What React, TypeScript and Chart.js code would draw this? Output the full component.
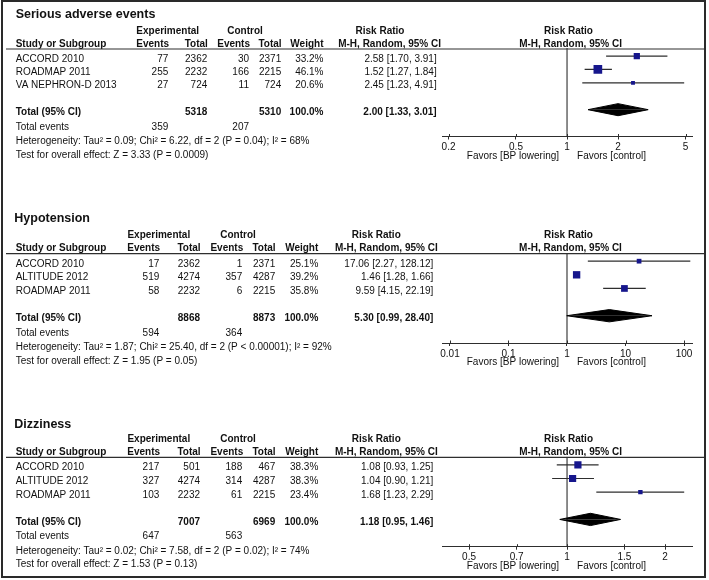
import React, { useEffect, useRef } from 'react';
import { Chart, registerables } from 'chart.js';

Chart.register(...registerables);

const FONT = "'Liberation Sans', Arial, Helvetica, sans-serif";
const INK = '#111111';
const LINE = '#2e2e2e';
const SQUARE = '#16168c';

// ---------- Serious adverse events ----------
const saeTitle = 'Serious adverse events';
const saeStudies = ['ACCORD 2010', 'ROADMAP 2011', 'VA NEPHRON-D 2013'];
const saeExpEvents = [77, 255, 27];
const saeExpTotal = [2362, 2232, 724];
const saeCtlEvents = [30, 166, 11];
const saeCtlTotal = [2371, 2215, 724];
const saeWeight = [33.2, 46.1, 20.6];
const saeRR = [2.58, 1.52, 2.45];
const saeLow = [1.7, 1.27, 1.23];
const saeHigh = [3.91, 1.84, 4.91];
const saeTotals = [5318, 5310];
const saeTotalEvents = [359, 207];
const saePooled = [2.0, 1.33, 3.01];
const saeHet = 'Heterogeneity: Tau² = 0.09; Chi² = 6.22, df = 2 (P = 0.04); I² = 68%';
const saeTest = 'Test for overall effect: Z = 3.33 (P = 0.0009)';
const saeTicks = [0.2, 0.5, 1, 2, 5];

// ---------- Hypotension ----------
const hypoTitle = 'Hypotension';
const hypoStudies = ['ACCORD 2010', 'ALTITUDE 2012', 'ROADMAP 2011'];
const hypoExpEvents = [17, 519, 58];
const hypoExpTotal = [2362, 4274, 2232];
const hypoCtlEvents = [1, 357, 6];
const hypoCtlTotal = [2371, 4287, 2215];
const hypoWeight = [25.1, 39.2, 35.8];
const hypoRR = [17.06, 1.46, 9.59];
const hypoLow = [2.27, 1.28, 4.15];
const hypoHigh = [128.12, 1.66, 22.19];
const hypoTotals = [8868, 8873];
const hypoTotalEvents = [594, 364];
const hypoPooled = [5.3, 0.99, 28.4];
const hypoHet = 'Heterogeneity: Tau² = 1.87; Chi² = 25.40, df = 2 (P < 0.00001); I² = 92%';
const hypoTest = 'Test for overall effect: Z = 1.95 (P = 0.05)';
const hypoTicks = [0.01, 0.1, 1, 10, 100];

// ---------- Dizziness ----------
const dizTitle = 'Dizziness';
const dizStudies = ['ACCORD 2010', 'ALTITUDE 2012', 'ROADMAP 2011'];
const dizExpEvents = [217, 327, 103];
const dizExpTotal = [501, 4274, 2232];
const dizCtlEvents = [188, 314, 61];
const dizCtlTotal = [467, 4287, 2215];
const dizWeight = [38.3, 38.3, 23.4];
const dizRR = [1.08, 1.04, 1.68];
const dizLow = [0.93, 0.9, 1.23];
const dizHigh = [1.25, 1.21, 2.29];
const dizTotals = [7007, 6969];
const dizTotalEvents = [647, 563];
const dizPooled = [1.18, 0.95, 1.46];
const dizHet = 'Heterogeneity: Tau² = 0.02; Chi² = 7.58, df = 2 (P = 0.02); I² = 74%';
const dizTest = 'Test for overall effect: Z = 1.53 (P = 0.13)';
const dizTicks = [0.5, 0.7, 1, 1.5, 2];

const panels = [
  { title: saeTitle, studies: saeStudies, expEvents: saeExpEvents, expTotal: saeExpTotal, ctlEvents: saeCtlEvents, ctlTotal: saeCtlTotal, weight: saeWeight, rr: saeRR, low: saeLow, high: saeHigh, totals: saeTotals, totalEvents: saeTotalEvents, pooled: saePooled, het: saeHet, test: saeTest, ticks: saeTicks },
  { title: hypoTitle, studies: hypoStudies, expEvents: hypoExpEvents, expTotal: hypoExpTotal, ctlEvents: hypoCtlEvents, ctlTotal: hypoCtlTotal, weight: hypoWeight, rr: hypoRR, low: hypoLow, high: hypoHigh, totals: hypoTotals, totalEvents: hypoTotalEvents, pooled: hypoPooled, het: hypoHet, test: hypoTest, ticks: hypoTicks },
  { title: dizTitle, studies: dizStudies, expEvents: dizExpEvents, expTotal: dizExpTotal, ctlEvents: dizCtlEvents, ctlTotal: dizCtlTotal, weight: dizWeight, rr: dizRR, low: dizLow, high: dizHigh, totals: dizTotals, totalEvents: dizTotalEvents, pooled: dizPooled, het: dizHet, test: dizTest, ticks: dizTicks },
];

// ---------- layout (pixel positions, local to each panel canvas) ----------
const colsA = { expEv: 168.3, expTot: 207.3, ctlEv: 249, ctlTot: 281.2, weight: 323.5, rr: 436.7, expCenter: 167.7, ctlCenter: 245, rrHead: 380, mhRight: 441 };
const colsB = { expEv: 159.3, expTot: 200, ctlEv: 242.2, ctlTot: 275.2, weight: 318.3, rr: 433.3, expCenter: 158.8, ctlCenter: 238, rrHead: 376.3, mhRight: 437.7 };
const layouts = [
  { top: 0, height: 195, chartTop: 48, axisY: 136.5, underlineY: 49, titleX: 15.7, titleY: 14.7, h1Y: 31, h2Y: 44.3, xMin: 0.183, xMax: 5.46, cols: colsA },
  { top: 195, height: 195, chartTop: 58, axisY: 148, underlineY: 58.6, titleX: 14.3, titleY: 23.3, h1Y: 40.3, h2Y: 53.7, xMin: 0.0073, xMax: 137, cols: colsB },
  { top: 390, height: 190, chartTop: 66.7, axisY: 156.7, underlineY: 67.3, titleX: 14.3, titleY: 35, h1Y: 49, h2Y: 62.7, xMin: 0.413, xMax: 2.42, cols: colsB },
];

const fmtRR = (r: number, lo: number, hi: number) => `${r.toFixed(2)} [${lo.toFixed(2)}, ${hi.toFixed(2)}]`;

function ForestPanel({ panel, lay }: { panel: any; lay: any }) {
  const ref = useRef<HTMLCanvasElement>(null);

  useEffect(() => {
    const canvas = ref.current;
    if (!canvas) return;
    const n = panel.studies.length;
    const totalRow = n + 2;
    const [pe, plo, phi] = panel.pooled;

    const ciSets = panel.studies.map((_: string, i: number) => ({
      data: [{ x: panel.low[i], y: i + 1 }, { x: panel.high[i], y: i + 1 }],
      showLine: true, borderColor: LINE, borderWidth: 1.2, pointRadius: 0, order: 2,
    }));
    const squares = {
      data: panel.rr.map((r: number, i: number) => ({ x: r, y: i + 1 })),
      pointStyle: 'rect',
      pointRadius: panel.weight.map((w: number) => w * 0.133),
      backgroundColor: SQUARE, borderColor: SQUARE, borderWidth: 0, order: 0,
    };
    const upper = {
      data: [{ x: plo, y: totalRow }, { x: pe, y: totalRow - 0.45 }, { x: phi, y: totalRow }],
      showLine: true, fill: { value: totalRow }, backgroundColor: '#000', borderColor: '#000', borderWidth: 1, pointRadius: 0, tension: 0, order: 1,
    };
    const lower = {
      data: [{ x: plo, y: totalRow }, { x: pe, y: totalRow + 0.45 }, { x: phi, y: totalRow }],
      showLine: true, fill: { value: totalRow }, backgroundColor: '#000', borderColor: '#000', borderWidth: 1, pointRadius: 0, tension: 0, order: 1,
    };
    const nullLine = {
      data: [{ x: 1, y: 0.4 }, { x: 1, y: 7 }],
      showLine: true, borderColor: LINE, borderWidth: 1.1, pointRadius: 0, order: 3,
    };

    const textPlugin = {
      id: 'forestText',
      afterDraw(chart: any) {
        const ctx = chart.ctx;
        const ys = chart.scales.y;
        const xs = chart.scales.x;
        const c = lay.cols;
        ctx.save();
        const t = (s: string, x: number, y: number, align: string = 'left', bold = false, size = 10) => {
          ctx.font = `${bold ? 'bold ' : ''}${size}px ${FONT}`;
          ctx.textAlign = align;
          ctx.textBaseline = 'middle';
          ctx.fillStyle = INK;
          ctx.fillText(s, x, y);
        };
        const xc = xs.getPixelForValue(1);
        // title
        t(panel.title, lay.titleX, lay.titleY, 'left', true, 12.5);
        // header row 1
        t('Experimental', c.expCenter, lay.h1Y, 'center', true);
        t('Control', c.ctlCenter, lay.h1Y, 'center', true);
        t('Risk Ratio', c.rrHead, lay.h1Y, 'center', true);
        t('Risk Ratio', xc + 1.5, lay.h1Y, 'center', true);
        // header row 2
        t('Study or Subgroup', 15.7, lay.h2Y, 'left', true);
        t('Events', c.expEv + 0.8, lay.h2Y, 'right', true);
        t('Total', c.expTot + 0.6, lay.h2Y, 'right', true);
        t('Events', c.ctlEv + 1, lay.h2Y, 'right', true);
        t('Total', c.ctlTot + 0.4, lay.h2Y, 'right', true);
        t('Weight', c.weight, lay.h2Y, 'right', true);
        t('M-H, Random, 95% CI', c.mhRight, lay.h2Y, 'right', true);
        t('M-H, Random, 95% CI', xc + 3.5, lay.h2Y, 'center', true);
        // underline
        ctx.strokeStyle = LINE;
        ctx.lineWidth = 1.2;
        ctx.beginPath();
        ctx.moveTo(6, lay.underlineY);
        ctx.lineTo(706, lay.underlineY);
        ctx.stroke();
        // study rows
        panel.studies.forEach((s: string, i: number) => {
          const y = ys.getPixelForValue(i + 1) + 2.8;
          t(s, 15.7, y);
          t(String(panel.expEvents[i]), c.expEv, y, 'right');
          t(String(panel.expTotal[i]), c.expTot, y, 'right');
          t(String(panel.ctlEvents[i]), c.ctlEv, y, 'right');
          t(String(panel.ctlTotal[i]), c.ctlTot, y, 'right');
          t(`${panel.weight[i].toFixed(1)}%`, c.weight, y, 'right');
          t(fmtRR(panel.rr[i], panel.low[i], panel.high[i]), c.rr, y, 'right');
        });
        // totals
        const ty = ys.getPixelForValue(totalRow) + 2.6;
        t('Total (95% CI)', 15.7, ty, 'left', true);
        t(String(panel.totals[0]), c.expTot, ty, 'right', true);
        t(String(panel.totals[1]), c.ctlTot, ty, 'right', true);
        t('100.0%', c.weight, ty, 'right', true);
        t(fmtRR(pe, plo, phi), c.rr, ty, 'right', true);
        t('Total events', 15.7, ty + 14.6);
        t(String(panel.totalEvents[0]), c.expEv, ty + 14.6, 'right');
        t(String(panel.totalEvents[1]), c.ctlEv, ty + 14.6, 'right');
        t(panel.het, 15.7, ty + 28.8);
        t(panel.test, 15.7, ty + 42.7);
        // favors labels
        const ay = xs.top;
        t('Favors [BP lowering]', xc - 8, ay + 19.5, 'right');
        t('Favors [control]', xc + 10, ay + 19.5, 'left');
        // upward half of tick crosses
        ctx.strokeStyle = LINE;
        ctx.lineWidth = 1;
        xs.ticks.forEach((tk: any) => {
          const px = Math.round(xs.getPixelForValue(tk.value)) + 0.5;
          ctx.beginPath();
          ctx.moveTo(px, ay - 2.5);
          ctx.lineTo(px, ay);
          ctx.stroke();
        });
        ctx.restore();
      },
    };

    const chart = new Chart(canvas, {
      type: 'scatter',
      data: { datasets: [squares, upper, lower, ...ciSets, nullLine] as any },
      options: {
        animation: false,
        responsive: false,
        devicePixelRatio: 1,
        events: [],
        layout: { padding: { left: 442, right: 17, top: lay.chartTop, bottom: 0 } },
        plugins: { legend: { display: false }, tooltip: { enabled: false } },
        scales: {
          x: {
            type: 'logarithmic',
            min: lay.xMin,
            max: lay.xMax,
            bounds: 'data',
            position: 'bottom',
            grid: { drawOnChartArea: false, drawTicks: true, tickLength: 3, color: LINE, lineWidth: 1 },
            border: { display: true, color: LINE, width: 1 },
            ticks: {
              autoSkip: false, maxRotation: 0, minRotation: 0, padding: 2,
              color: INK, font: { family: FONT, size: 10 },
              callback: (v: any) => String(v),
            },
            afterBuildTicks: (scale: any) => { scale.ticks = panel.ticks.map((v: number) => ({ value: v })); },
            afterFit: (scale: any) => { scale.height = lay.height - lay.axisY; },
          } as any,
          y: { type: 'linear', min: 0.4, max: 7, reverse: true, display: false },
        },
      },
      plugins: [textPlugin],
    } as any);
    return () => chart.destroy();
  }, [panel, lay]);

  return (
    <canvas
      ref={ref}
      width={709}
      height={lay.height}
      style={{ position: 'absolute', left: 0, top: lay.top, width: 709, height: lay.height }}
    />
  );
}

export default function App() {
  return (
    <div style={{ position: 'absolute', left: 0, top: 0, width: 709, height: 580, background: '#ffffff', overflow: 'hidden' }}>
      {panels.map((p, i) => (
        <ForestPanel key={i} panel={p} lay={layouts[i]} />
      ))}
      <div style={{ position: 'absolute', left: 1, top: 0, width: 705, height: 578, border: '2px solid #2a2a2a', boxSizing: 'border-box', pointerEvents: 'none' }} />
    </div>
  );
}
